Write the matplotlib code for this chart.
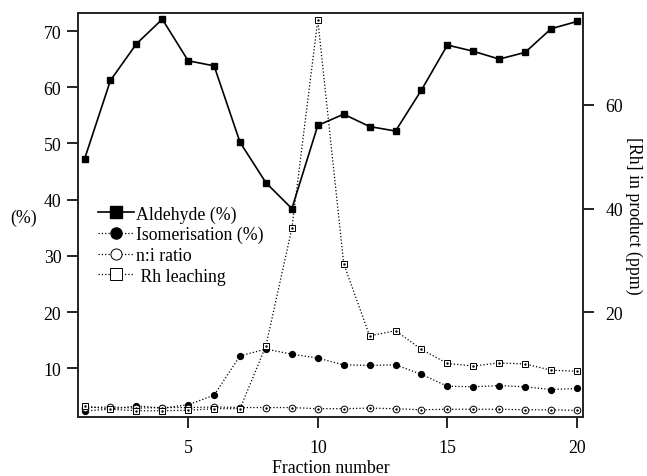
import matplotlib
matplotlib.use("Agg")
import matplotlib.pyplot as plt
from matplotlib.lines import Line2D

plt.rcParams['font.family'] = ['Liberation Serif', 'DejaVu Serif']

fraction = list(range(1, 21))
aldehyde = [47.2, 61.2, 67.7, 72.1, 64.7, 63.8, 50.2, 43.0, 38.4, 53.2,
            55.2, 53.0, 52.2, 59.5, 67.5, 66.4, 65.0, 66.2, 70.4, 71.7]
isomerisation = [2.4, 2.7, 3.3, 2.9, 3.5, 5.2, 12.2, 13.4, 12.5, 11.8,
                 10.6, 10.5, 10.6, 8.9, 6.8, 6.7, 6.9, 6.7, 6.2, 6.4]
ni_ratio = [3.0, 3.1, 2.9, 3.0, 3.0, 3.1, 3.0, 3.0, 3.0, 2.8,
            2.8, 2.9, 2.8, 2.6, 2.7, 2.7, 2.7, 2.6, 2.6, 2.5]
rh_leaching = [2.0, 1.4, 1.1, 1.1, 1.2, 1.5, 1.5, 13.6, 36.2, 76.3,
               29.4, 15.5, 16.5, 12.9, 10.2, 9.7, 10.3, 10.1, 8.9, 8.7]

fig = plt.figure(figsize=(6.47, 4.77), dpi=100)
ax = fig.add_axes([0.1206, 0.1237, 0.7804, 0.8469])
ax2 = ax.twinx()

ax.plot(fraction, aldehyde, color='black', lw=1.2, ls='-', marker='s', markersize=5)
ax.plot(fraction, isomerisation, color='black', lw=0.9, ls=':', marker='o', markersize=4.2)
ax.plot(fraction, ni_ratio, color='black', lw=0.9, ls=':', marker='o', markersize=4.8,
        markerfacecolor='white', markeredgewidth=0.7)
ax.plot(fraction, ni_ratio, ls='none', marker='.', markersize=1.5, color='black')

ax2.plot(fraction, rh_leaching, color='black', lw=0.9, ls=':', marker='s', markersize=4.8,
         markerfacecolor='white', markeredgewidth=0.7)
ax2.plot(fraction, rh_leaching, ls='none', marker='.', markersize=1.5, color='black')

ax.set_xlim(0.75, 20.23)
ax.set_ylim(1.32, 73.2)
ax2.set_ylim(-0.1, 77.6)

ax.set_xticks([5, 10, 15, 20])
ax.set_yticks([10, 20, 30, 40, 50, 60, 70])
ax2.set_yticks([20, 40, 60])

fs = 12.8
for a in (ax, ax2):
    for s in a.spines.values():
        s.set_linewidth(1.2)
        s.set_color('#222222')
    a.tick_params(direction='out', length=8, width=1.2, labelsize=fs, colors='black')
ax.tick_params(axis='x', pad=8)
ax.tick_params(axis='y', pad=4)
ax2.tick_params(axis='y', pad=8)

ax.set_xlabel('Fraction number', fontsize=fs, labelpad=2)
ax.set_ylabel('(%)', fontsize=fs, rotation=0, va='center', ha='center')
ax.yaxis.set_label_coords(-0.108, 0.495)
ax2.set_ylabel('[Rh] in product (ppm)', fontsize=fs, rotation=270, labelpad=14)

handles = [
    Line2D([], [], color='black', lw=1.2, ls='-', marker='s', markersize=8),
    Line2D([], [], color='black', lw=0.9, ls=':', marker='o', markersize=8),
    Line2D([], [], color='black', lw=0.9, ls=':', marker='o', markersize=8,
           markerfacecolor='white', markeredgewidth=0.7),
    Line2D([], [], color='black', lw=0.9, ls=':', marker='s', markersize=8,
           markerfacecolor='white', markeredgewidth=0.7),
]
labels = ['Aldehyde (%)', 'Isomerisation (%)', 'n:i ratio', ' Rh leaching']
ax2.legend(handles, labels, loc='upper left', bbox_to_anchor=(0.015, 0.555),
           frameon=False, fontsize=fs, handlelength=2.0, handletextpad=0.15,
           labelspacing=0.2, borderpad=0.2)

fig.savefig('out.png', dpi=100)
